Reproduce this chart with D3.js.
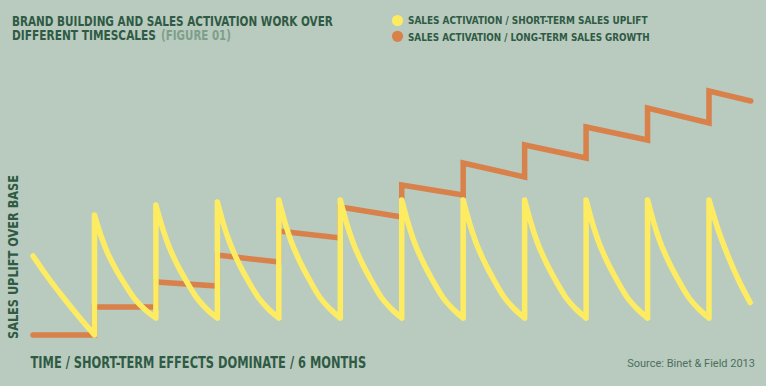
<!DOCTYPE html>
<html>
<head>
<meta charset="utf-8">
<script src="https://cdn.jsdelivr.net/npm/d3@7"></script>
<style>
  body { margin: 0; background: #b9cbbf; }
  svg { display: block; }
  .cond { font-family: "DejaVu Sans", sans-serif; font-weight: bold; }
</style>
</head>
<body>
<svg width="766" height="386"></svg>
<script>
//	time is in campaign bursts (11 bursts over the 6 months), uplift in % of base
var openingT = [0, 0.25, 0.5, 0.75, 1];
var openingV = [31.6, 22.8, 14.8, 7.2, 0];

//	each burst: jump up at its start, then decay
var burstStart = [1, 2, 3, 4, 5, 6, 7, 8, 9, 10, 11];
var decayT = [0, 0.1, 0.2, 0.35, 0.5, 0.67, 0.83, 1];
var lastDecayT = [0, 0.15, 0.32, 0.48, 0.67];
var burstValues = [
	[48, 40.1, 33.6, 26.2, 20.1, 14.0, 10.0, 6.8],
	[52, 43.4, 36.2, 28.0, 21.4, 14.7, 10.3, 6.8],
	[53.2, 44.3, 37.0, 28.6, 21.7, 14.9, 10.4, 6.8],
	[54, 45, 37.5, 29, 22, 15, 10.5, 6.8],
	[54, 45, 37.5, 29, 22, 15, 10.5, 6.8],
	[54, 45, 37.5, 29, 22, 15, 10.5, 6.8],
	[54, 45, 37.5, 29, 22, 15, 10.5, 6.8],
	[54, 45, 37.5, 29, 22, 15, 10.5, 6.8],
	[54, 45, 37.5, 29, 22, 15, 10.5, 6.8],
	[54, 45, 37.5, 29, 22, 15, 10.5, 6.8],
	[54, 42, 31, 22, 13]
];

//	long-term growth: level at start and end of each period
var stepT = [0, 1, 2, 3, 4, 5, 6, 7, 8, 9, 10, 11];
var stepEndT = 11.68;
var stepFrom = [0, 11.2, 21.2, 32, 41.6, 51.2, 60, 68.8, 76, 83.2, 90.8, 97.6];
var stepTo = [0, 11.2, 19.6, 29.2, 38.8, 47.2, 56, 63.2, 70.8, 78, 84.8, 93.6];

var legendLabels = ["SALES ACTIVATION / SHORT-TERM SALES UPLIFT", "SALES ACTIVATION / LONG-TERM SALES GROWTH"];
var yellow = "#fdec62", orange = "#d9814a", ink = "#2f5a44";

var svg = d3.select("svg");
svg.append("rect").attr("width", 766).attr("height", 386).attr("fill", "#b9cbbf");

var x = d3.scaleLinear().domain([0, 11]).range([33, 709]);
var y = d3.scaleLinear().domain([0, 100]).range([335, 85]);

var lineLin = d3.line().x(function(d) { return x(d[0]); }).y(function(d) { return y(d[1]); });
var lineMono = d3.line().curve(d3.curveMonotoneX)
	.x(function(d) { return x(d[0]); }).y(function(d) { return y(d[1]); });

//	orange steps
var stepPts = [];
stepT.forEach(function(t, i) {
	var tEnd = i < stepT.length - 1 ? stepT[i + 1] : stepEndT;
	stepPts.push([t, stepFrom[i]]);
	stepPts.push([tEnd, stepTo[i]]);
});
svg.append("path")
	.attr("d", lineLin(stepPts))
	.attr("fill", "none")
	.attr("stroke", orange)
	.attr("stroke-width", 5.5)
	.attr("stroke-linejoin", "miter")
	.attr("stroke-linecap", "round");

//	yellow bursts
var segs = [];
segs.push(lineMono(openingT.map(function(t, i) { return [t, openingV[i]]; })));
var prevTrough = openingV[openingV.length - 1];
burstStart.forEach(function(t0, i) {
	var vals = burstValues[i];
	var ts = i == burstStart.length - 1 ? lastDecayT : decayT;
	segs.push(lineLin([[t0, prevTrough], [t0, vals[0]]]));
	segs.push(lineMono(vals.map(function(v, j) { return [t0 + ts[j], v]; })));
	prevTrough = vals[vals.length - 1];
});
svg.append("path")
	.attr("d", segs.join(""))
	.attr("fill", "none")
	.attr("stroke", yellow)
	.attr("stroke-width", 5.5)
	.attr("stroke-linejoin", "round")
	.attr("stroke-linecap", "round");

//	condensed text: squeeze a bold face horizontally to the width it has in the figure
function condText(parent, tx, ty, rot, size, width, str, color) {
	var g = parent.append("g").attr("transform", "translate(" + tx + "," + ty + ") rotate(" + rot + ")");
	var t = g.append("text").attr("class", "cond").attr("font-size", size)
		.attr("fill", color || ink).text(str);
	var w = t.node().getComputedTextLength();
	t.attr("transform", "scale(" + (width / w) + ",1)");
	return t;
}

//	title
condText(svg, 12, 25.5, 0, 13.2, 321, "BRAND BUILDING AND SALES ACTIVATION WORK OVER");
condText(svg, 12, 39.8, 0, 13.2, 144, "DIFFERENT TIMESCALES");
condText(svg, 161, 39.8, 0, 13.2, 70, "(FIGURE 01)", "#7d9f8a");

//	legend
[yellow, orange].forEach(function(c, i) {
	svg.append("circle").attr("cx", 397.5).attr("cy", 20.5 + i * 15.8).attr("r", 5.6).attr("fill", c);
	condText(svg, 408, 24.3 + i * 16.3, 0, 11, i == 0 ? 240 : 242, legendLabels[i]);
});

//	axis labels
condText(svg, 18, 339, -90, 13.6, 164, "SALES UPLIFT OVER BASE");
condText(svg, 30.5, 368, 0, 15.6, 336, "TIME / SHORT-TERM EFFECTS DOMINATE / 6 MONTHS");

svg.append("text").attr("fill", "#4b6f5b").attr("font-family", "Roboto, 'Liberation Sans', sans-serif")
	.attr("font-size", 11).attr("text-anchor", "end")
	.attr("x", 755).attr("y", 367)
	.text("Source: Binet & Field 2013");
</script>
</body>
</html>
